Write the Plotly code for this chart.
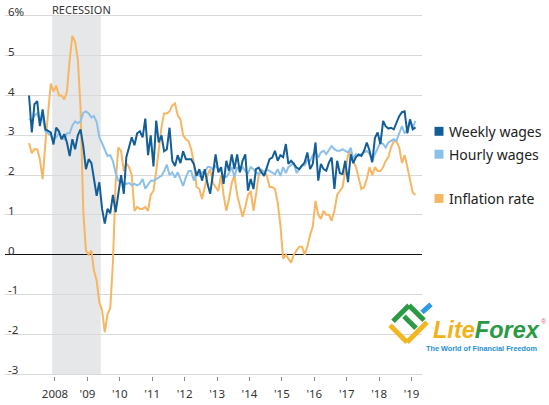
import pandas as pd
import plotly.graph_objects as go

# Monthly data, Mar 2007 - Feb 2019 (year-over-year % change)
months = pd.date_range("2007-03-01", "2019-02-01", freq="MS") + pd.Timedelta(days=14)

weekly_wages = [
    4.0, 3.07, 3.78, 3.86, 3.23, 3.65, 3.15, 3.1, 3.07, 2.77,
    3.19, 3.1, 2.9, 3.03, 2.82, 2.48, 2.9, 2.65, 3.0, 3.15, 2.73, 2.15,
    2.4, 2.3, 1.85, 1.48, 1.82, 1.15, 0.78, 1.15, 1.04, 1.5, 1.07, 1.6,
    2.0, 1.53, 2.45, 2.7, 2.95, 2.75, 3.05, 3.1, 2.95, 3.42, 2.5, 3.0,
    2.22, 3.37, 2.82, 3.0, 2.6, 2.65, 3.19, 2.36, 2.23, 2.5, 2.3, 2.6,
    2.4, 2.4, 2.4, 2.27, 1.98, 2.15, 1.86, 2.15, 1.78, 1.53, 2.07, 2.52,
    2.07, 2.2, 1.78, 2.36, 2.11, 2.52, 2.15, 2.52, 2.07, 2.36, 2.52, 1.61,
    1.9, 1.65, 2.15, 2.19, 2.07, 1.98, 2.19, 2.4, 2.44, 2.61, 2.36, 2.5,
    2.45, 2.78, 2.28, 2.36, 2.28, 2.19, 2.15, 2.23, 2.32, 2.57, 2.15, 2.28,
    2.82, 1.86, 2.28, 2.15, 2.11, 2.32, 2.44, 1.65, 2.36, 2.05, 2.03, 2.36,
    1.82, 2.52, 2.3, 2.45, 2.52, 2.48, 2.61, 2.82, 2.61, 2.32, 2.94, 3.07,
    2.78, 3.36, 3.23, 3.17, 3.19, 3.15, 3.3, 3.48, 3.58, 3.6, 3.05, 3.4,
    3.15, 3.2,
]

hourly_wages = [
    3.42, 3.35, 3.5, 3.55, 3.35, 3.45, 3.1, 3.05, 3.0, 2.9,
    2.95, 3.05, 2.95, 2.9, 3.05, 3.05, 3.25, 3.35, 3.3, 3.35, 3.57, 3.6,
    3.55, 3.45, 3.48, 3.33, 2.95, 2.8, 2.65, 2.48, 2.5, 2.35, 2.05, 1.86,
    1.83, 1.8, 1.78, 1.8, 1.75, 1.78, 1.74, 1.78, 1.9, 1.66, 1.75, 1.86,
    1.86, 1.9, 1.92, 1.98, 2.1, 2.26, 2.0, 2.07, 1.94, 2.07, 1.9, 1.73,
    1.94, 2.1, 2.1, 1.86, 2.05, 1.98, 2.07, 2.07, 2.2, 2.2, 2.15, 2.23,
    2.15, 2.1, 1.95, 1.95, 2.05, 2.2, 1.95, 2.2, 2.1, 2.2, 2.1, 2.05,
    2.2, 2.15, 2.07, 2.02, 2.15, 2.02, 2.15, 2.1, 2.07, 2.02, 2.15, 1.98,
    2.2, 2.05, 2.2, 2.25, 2.3, 2.05, 2.15, 2.25, 2.25, 2.38, 2.35, 2.5,
    2.6, 2.44, 2.57, 2.61, 2.53, 2.65, 2.73, 2.65, 2.61, 2.61, 2.65, 2.61,
    2.57, 2.69, 2.42, 2.53, 2.48, 2.53, 2.57, 2.61, 2.53, 2.36, 2.53, 2.69,
    2.82, 2.78, 2.69, 2.82, 2.86, 2.9, 2.86, 3.07, 3.23, 3.05, 3.15, 3.36,
    3.2, 3.36,
]

inflation_rate = [
    2.8, 2.55, 2.65, 2.65, 2.4, 1.9, 2.8, 3.5, 4.3, 4.1,
    4.25, 4.0, 4.0, 3.9, 4.1, 4.9, 5.5, 5.35, 4.9, 3.7, 1.1, 0.1,
    0.0, 0.1, -0.4, -0.65, -1.2, -1.4, -1.95, -1.5, -1.35, -0.2, 1.8, 2.7,
    2.6, 2.1, 2.3, 2.2, 2.0, 1.1, 1.2, 1.15, 1.15, 1.2, 1.1, 1.5,
    1.6, 2.1, 2.7, 3.2, 3.55, 3.55, 3.6, 3.75, 3.8, 3.5, 3.4, 3.0,
    2.9, 2.85, 2.65, 2.3, 1.7, 1.65, 1.4, 1.7, 2.0, 2.15, 1.8, 1.7,
    1.6, 2.0, 1.5, 1.1, 1.4, 1.8, 2.0, 1.5, 1.2, 0.95, 1.2, 1.5,
    1.6, 1.1, 1.5, 2.0, 2.1, 2.1, 2.0, 1.7, 1.7, 1.65, 1.3, 0.75,
    -0.1, 0.0, -0.1, -0.2, 0.0, 0.1, 0.2, 0.2, 0.0, 0.2, 0.5, 0.7,
    1.35, 1.0, 0.9, 1.1, 1.0, 1.0, 0.85, 1.1, 1.5, 1.6, 1.7, 2.1,
    2.5, 2.6, 2.35, 2.2, 1.9, 1.65, 1.7, 1.9, 2.2, 2.0, 2.2, 2.1,
    2.1, 2.2, 2.35, 2.45, 2.7, 2.85, 2.85, 2.7, 2.3, 2.5, 2.2, 1.9,
    1.55, 1.5,
]

series_names = ["Weekly wages", "Hourly wages", "Inflation rate"]
series_colors = ["#135e96", "#8cc0e8", "#f6b663"]

y_tick_vals = [-3, -2, -1, 0, 1, 2, 3, 4, 5, 6]
y_tick_text = ["-3", "-2", "-1", "0", "1", "2", "3", "4", "5", "6%"]
x_tick_vals = [f"{y}-01-01" for y in range(2008, 2020)]
x_tick_text = ["2008", "'09", "'10", "'11", "'12", "'13", "'14", "'15", "'16", "'17", "'18", "'19"]

recession = ("2007-12-01", "2009-06-01")

FONT = "Noto Sans"

fig = go.Figure()
for name, vals, col in [
    ("Inflation rate", inflation_rate, series_colors[2]),
    ("Hourly wages", hourly_wages, series_colors[1]),
    ("Weekly wages", weekly_wages, series_colors[0]),
]:
    fig.add_trace(go.Scatter(x=months, y=vals, mode="lines", name=name,
                             line=dict(color=col, width=2), showlegend=False,
                             hoverinfo="x+y+name"))

# plot area in pixels: x 5..422; y range padded so that -3 -> y 376, 6 -> y 16
Y_RANGE = [-3.05, 6.3]
L, R = 5, 422
B = 376 + 0.05 * 40
T = 16 - 0.3 * 40
W, H = 549, 405


def px(x):
    return (x - L) / (R - L)


def py(y):
    return (B - y) / (B - T)


shapes = [
    dict(type="rect", xref="x", yref="y", x0=recession[0], x1=recession[1],
         y0=-3, y1=6, fillcolor="#e6e7e9", line=dict(width=0), layer="below"),
]
annotations = [
    dict(text="RECESSION", xref="x", yref="paper", x=recession[0], y=py(10),
         xanchor="left", yanchor="middle", showarrow=False, xshift=-2,
         font=dict(family=FONT, size=11, color="#333333")),
]

# y tick labels sitting just above each gridline
for v, t in zip(y_tick_vals, y_tick_text):
    annotations.append(dict(text=t, xref="paper", yref="y", x=px(6), y=v,
                            xanchor="left", yanchor="middle", yshift=4.5,
                            showarrow=False,
                            font=dict(family=FONT, size=11.5, color="#333333")))

# legend (manual)
leg_y = [132, 155, 199.5]
for name, col, yc in zip(series_names, series_colors, leg_y):
    shapes.append(dict(type="rect", xref="paper", yref="paper",
                       x0=px(434.5), x1=px(443.5), y0=py(yc + 4.5), y1=py(yc - 4.5),
                       fillcolor=col, line=dict(width=0)))
    annotations.append(dict(text=name, xref="paper", yref="paper", x=px(447), y=py(yc),
                            xanchor="left", yanchor="middle", showarrow=False,
                            font=dict(family=FONT, size=14, color="#222222")))

# watermark logo
def seg(x0, y0, x1, y1, color, w=5):
    return dict(type="line", xref="paper", yref="paper", x0=px(x0), y0=py(y0),
                x1=px(x1), y1=py(y1), line=dict(color=color, width=w))

shapes += [
    seg(390, 327, 407, 344, "#f2b622"),
    seg(407, 344, 427, 324, "#f2b622"),
    seg(393, 323, 409, 307, "#2b9a45"),
    seg(409, 307, 424, 322, "#2b9a45"),
    seg(404, 318, 416, 330, "#2b9a45"),
    seg(422, 314, 431, 306, "#2f9be0"),
]
annotations += [
    dict(text="<b><i><span style='color:#f2b21b'>Lite</span><span style='color:#2b9a45'>Forex</span></i></b>",
         xref="paper", yref="paper", x=px(431), y=py(332), xanchor="left", yanchor="middle",
         showarrow=False, font=dict(family="Liberation Sans", size=23.5)),
    dict(text="®", xref="paper", yref="paper", x=px(538.5), y=py(323), xanchor="left",
         yanchor="middle", showarrow=False, font=dict(family="Liberation Sans", size=7, color="#e0607a")),
    dict(text="<b>The World of Financial Freedom</b>", xref="paper", yref="paper",
         x=px(481), y=py(350), xanchor="center", yanchor="middle", showarrow=False,
         font=dict(family="Liberation Sans", size=7.3, color="#1f8fd6")),
]

fig.update_layout(
    width=W, height=H,
    margin=dict(l=L, r=W - R, t=T, b=H - B, pad=0),
    paper_bgcolor="white", plot_bgcolor="white",
    shapes=shapes, annotations=annotations,
    showlegend=False,
    font=dict(family=FONT, color="#333333"),
    xaxis=dict(
        type="date", range=["2006-06-17", "2019-04-29"],
        tickvals=x_tick_vals, ticktext=x_tick_text,
        showgrid=False, zeroline=False, showline=False,
        ticks="outside", ticklen=4, tickcolor="#888888", tickwidth=1,
        ticklabelstandoff=3,
        tickfont=dict(family=FONT, size=11.5, color="#333333"),
        fixedrange=True,
    ),
    yaxis=dict(
        range=Y_RANGE, tickvals=y_tick_vals, showticklabels=False,
        showgrid=True, gridcolor="#d9d9d9", gridwidth=1,
        zeroline=True, zerolinecolor="#111111", zerolinewidth=1.2,
        showline=False, ticks="",
        fixedrange=True,
    ),
)

fig.write_html("out.html", config={"displayModeBar": False},
               post_script="document.body.style.margin='0';")
